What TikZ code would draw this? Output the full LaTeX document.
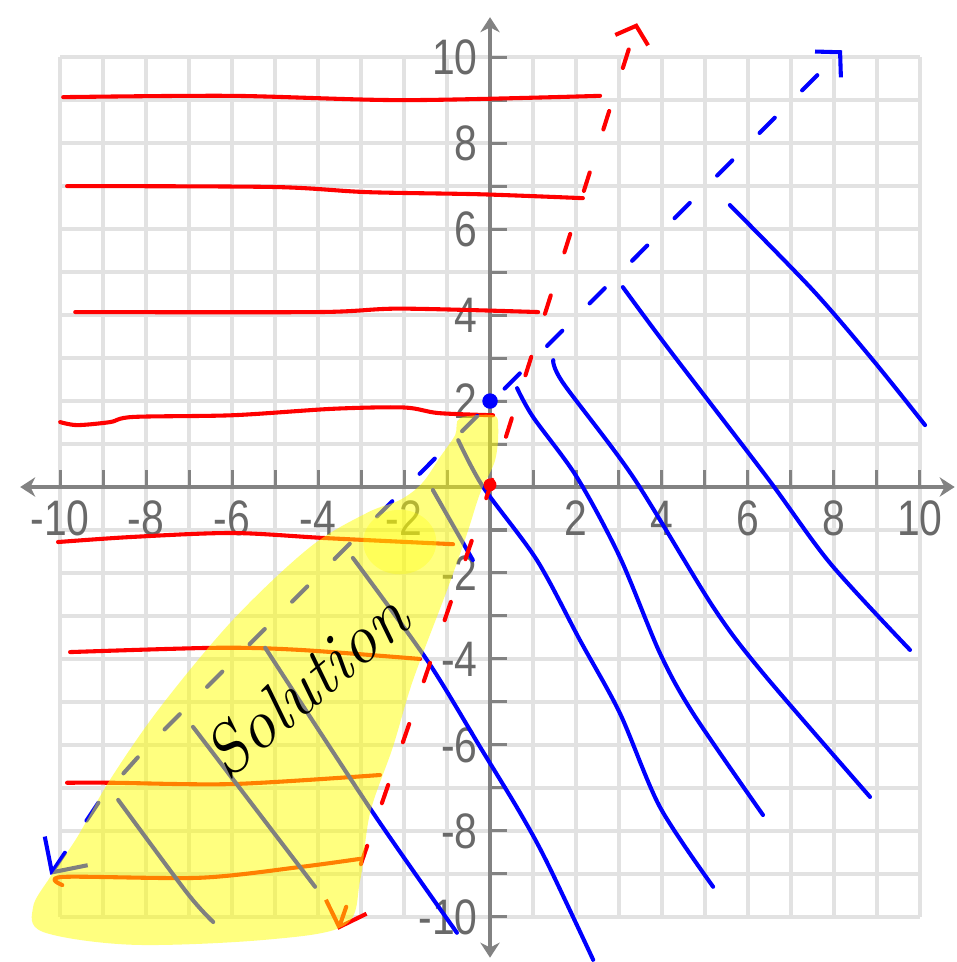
\documentclass[tikz,border=0pt]{standalone}
\usepackage{fontspec}
\usepackage{tikz}
\definecolor{inkred}{RGB}{255, 0, 0}
\definecolor{inkblue}{RGB}{0, 0, 255}
\definecolor{gridgray}{RGB}{226, 226, 226}
\definecolor{axisgray}{RGB}{130, 130, 130}
\definecolor{labelgray}{RGB}{105, 105, 105}
\definecolor{marker}{RGB}{255, 255, 0}
\newfontfamily\axisfont[FakeStretch=0.82]{Liberation Sans}
\usetikzlibrary{arrows.meta, calc}

\begin{document}
\begin{tikzpicture}[
    gridline/.style={draw=gridgray, line width=2.4pt},
    axisline/.style={draw=axisgray, line width=2.6pt,
                {Stealth[length=3.5mm,width=4.5mm]}-{Stealth[length=3.5mm,width=4.5mm]}},
    axistick/.style={draw=axisgray, line width=2pt},
    numlabel/.style={text=labelgray, inner sep=0pt,
                font=\axisfont\fontsize{33}{33}\selectfont},
    handline/.style={draw=#1, line width=2.7pt, line cap=round, line join=round},
    boundline/.style={draw=#1, line width=2.7pt, line cap=round},
    pointdot/.style={circle, fill=#1, inner sep=0pt, minimum size=3.6mm}
]
    \useasboundingbox (-11.40,-11.05) rectangle (10.86,11.33);

    % Grid
    \foreach \i in {-10,...,10} {
        \draw[gridline] (\i,-10) -- (\i,10);
        \draw[gridline] (-10,\i) -- (10,\i);
    }

    % Axes
    \coordinate (xmin) at (-10.93,0);
    \coordinate (xmax) at (10.81,0);
    \coordinate (ymin) at (0,-10.95);
    \coordinate (ymax) at (0,10.93);
    \draw[axisline] (xmin) -- (xmax);
    \draw[axisline] (ymin) -- (ymax);
    \foreach \i in {-10,...,-1,1,2,...,10} {
        \draw[axistick] (\i,0) -- (\i,0.4);
        \draw[axistick] (0,\i) -- (0.4,\i);
    }
    \foreach \i in {-10,-8,-6,-4,-2,2,4,6,8,10} {
        \node[numlabel] (xlab\i) at (\i,-0.72) {\i};
        \node[numlabel, anchor=east] (ylab\i) at (-0.28,\i) {\i};
    }

    % Red shading
    \draw[handline=inkred] plot[smooth] coordinates {(-9.93,9.07) (-6,9.1) (-2,9.0) (2.56,9.1)};
    \draw[handline=inkred] plot[smooth] coordinates {(-9.84,7.0) (-5.05,6.98) (-2.86,6.86) (-0.23,6.81) (2.16,6.72)};
    \draw[handline=inkred] plot[smooth] coordinates {(-9.65,4.07) (-4,4.07) (-2.09,4.15) (1.12,4.07)};
    \draw[handline=inkred] plot[smooth] coordinates {(-10,1.51) (-9.6,1.44) (-8.84,1.51) (-8.3,1.63) (-5.98,1.67)
        (-3.65,1.82) (-2.0,1.85) (-1.2,1.72) (0.07,1.67)};
    \draw[handline=inkred] plot[smooth] coordinates {(-10.05,-1.28) (-8.3,-1.16) (-5.98,-1.07) (-3.79,-1.19) (-0.86,-1.33)};
    \draw[handline=inkred] plot[smooth] coordinates {(-9.77,-3.84) (-6.35,-3.74) (-4.42,-3.79) (-1.63,-4.0)};
    \draw[handline=inkred] plot[smooth] coordinates {(-9.84,-6.88) (-8.79,-6.88) (-5.98,-6.91) (-2.56,-6.70)};
    \draw[handline=inkred] plot[smooth] coordinates {(-9.95,-9.26) (-9.93,-9.07) (-6.74,-9.09) (-4.42,-8.84) (-3.02,-8.65)};

    % Blue shading
    \draw[handline=inkblue] plot[smooth] coordinates {(-0.74,1.09) (-0.16,0) (1.09,-1.70) (2.09,-3.56) (3.02,-5.26) (3.95,-7.44) (5.19,-9.30)};
    \draw[handline=inkblue] plot[smooth] coordinates {(-1.33,-0.07) (-0.40,-1.70)};
    \draw[handline=inkblue] plot[smooth] coordinates {(0.63,2.30) (1.0,1.63) (2.02,0.23) (3.02,-1.63) (3.95,-3.86) (4.72,-5.26) (6.35,-7.63)};
    \draw[handline=inkblue] plot[smooth] coordinates {(1.47,2.95) (1.70,2.42) (3.33,0.23) (5.19,-2.79) (6.35,-4.33) (8.84,-7.21)};
    \draw[handline=inkblue] plot[smooth] coordinates {(3.09,4.65) (4.12,3.26) (6.44,0.23) (7.91,-1.77) (9.77,-3.79)};
    \draw[handline=inkblue] plot[smooth] coordinates {(5.58,6.56) (7.51,4.58) (8.91,2.95) (10.12,1.44)};
    \draw[handline=inkblue] plot[smooth] coordinates {(-3.19,-1.65) (-1.47,-4.02) (-0.23,-6.05) (0.70,-7.58) (1.33,-8.74) (2.40,-11.0)};
    \draw[handline=inkblue] plot[smooth] coordinates {(-5.23,-3.74) (-2.72,-7.58) (-0.77,-10.37)};
    \draw[handline=inkblue] plot[smooth] coordinates {(-6.91,-5.58) (-4.07,-9.30)};
    \draw[handline=inkblue] plot[smooth] coordinates {(-8.65,-7.28) (-7.05,-9.44) (-6.44,-10.12)};

    % Boundaries
    \coordinate (redlow) at (-3.53,-10.3);
    \coordinate (redhigh) at (3.42,10.79);
    \coordinate (bluelow) at (-10.23,-9.02);
    \coordinate (bluehigh) at (8.19,10.16);
    \draw[boundline=inkred, dash pattern=on 0.45cm off 1.05cm,
          {Straight Barb[length=5mm,width=10mm]}-{Straight Barb[length=3.5mm,width=8mm]}]
        (redlow) -- (-1.67,-4.9) -- (0,0) -- (redhigh);
    \draw[boundline=inkblue, dash pattern=on 0.5cm off 0.9cm,
          {Straight Barb[length=6mm,width=12mm]}-{Straight Barb[length=4mm,width=8.5mm]}]
        (bluelow) -- (-9.02,-7.21) -- (-7.98,-6.05) -- (bluehigh);

    % Highlighter
    \fill[marker, opacity=0.5] plot[smooth cycle, tension=0.55] coordinates {
        (-0.70,1.60) (0.07,1.67) (0.19,1.40) (0.12,0.63) (-0.23,-0.14) (-0.53,-1.07)
        (-1.0,-2.40) (-1.79,-4.49) (-2.26,-6.05) (-2.79,-7.58) (-3.02,-9.14) (-3.37,-10.19)
        (-5.19,-10.53) (-8.30,-10.65) (-10.40,-10.35) (-10.63,-9.77) (-10.23,-9.07)
        (-9.60,-8.14) (-8.84,-6.81) (-7.67,-5.12) (-5.98,-3.09) (-4.19,-1.40)
        (-2.86,-0.60) (-2.09,-0.30) (-1.58,0.09) (-1.16,0.70) (-0.81,1.21)};
    \fill[marker, opacity=0.3] (-2.1,-1.28) ellipse (0.85 and 0.75);

    % Intercepts
    \node[pointdot=inkblue] (yint) at (0,2) {};
    \node[pointdot=inkred, minimum size=3mm] (origin) at (0,0.05) {};

    % Label
    \node[rotate=40, font=\fontsize{46}{46}\selectfont\itshape] (sol) at (-4.30,-4.60) {Solution};
\end{tikzpicture}
\end{document}
